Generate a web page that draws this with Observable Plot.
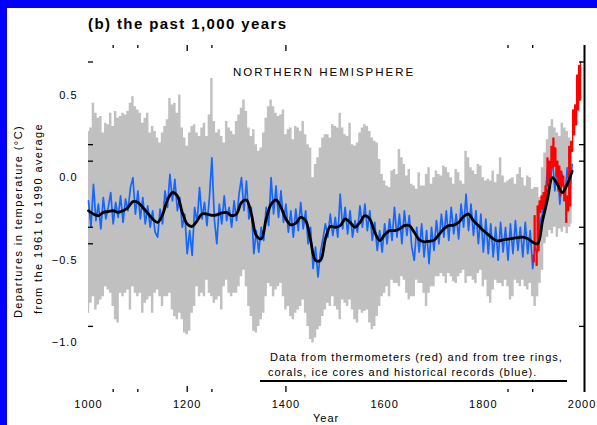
<!DOCTYPE html>
<html><head><meta charset="utf-8">
<script src="https://cdn.jsdelivr.net/npm/d3@7"></script>
<script src="https://cdn.jsdelivr.net/npm/@observablehq/plot@0.6"></script>
<style>
html,body{margin:0;padding:0;background:#fff;}
#wrap{position:relative;width:597px;height:425px;overflow:hidden;font-family:"Liberation Sans",Arial,sans-serif;color:#000;background:#fff;}
#wrap svg{position:absolute;left:0;top:0;}
#wrap svg text{letter-spacing:1px;}
.t{position:absolute;white-space:nowrap;line-height:1;}
</style></head><body><div id="wrap"></div>
<script>
// ---- Uncertainty band (grey), 5-year steps from 1000 to 1980 ----
const hi1000 = [0.28,0.30,0.45,0.39,0.36,0.37,0.27,0.33,0.32,0.39,0.31,0.40,0.36,0.37,0.39,0.38,0.40,0.45,0.49,0.43];
const hi1100 = [0.41,0.39,0.33,0.36,0.39,0.27,0.31,0.28,0.24,0.21,0.27,0.31,0.35,0.48,0.44,0.45,0.39,0.50,0.30,0.24];
const hi1200 = [0.19,0.27,0.31,0.32,0.27,0.25,0.30,0.33,0.25,0.38,0.60,0.34,0.27,0.29,0.25,0.21,0.34,0.30,0.28,0.26];
const hi1300 = [0.34,0.38,0.42,0.47,0.40,0.30,0.25,0.29,0.20,0.16,0.18,0.27,0.36,0.43,0.47,0.43,0.39,0.37,0.38,0.41];
const hi1400 = [0.26,0.29,0.30,0.23,0.31,0.30,0.28,0.34,0.26,0.20,0.18,0.00,0.08,0.12,0.18,0.24,0.26,0.26,0.24,0.32];
const hi1500 = [0.31,0.30,0.39,0.30,0.26,0.25,0.33,0.20,0.19,0.21,0.27,0.30,0.32,0.31,0.28,0.24,0.22,0.21,0.11,0.02];
const hi1600 = [-0.02,-0.05,-0.06,0.04,0.05,0.02,0.17,0.12,0.08,0.01,0.05,-0.04,-0.05,-0.07,0.03,-0.05,-0.05,0.02,0.06,-0.04];
const hi1700 = [0.00,0.04,0.02,0.01,0.07,0.06,0.03,0.00,-0.04,0.05,0.03,-0.02,-0.04,0.16,0.12,0.06,0.04,0.02,0.08,0.07];
const hi1800 = [0.00,-0.02,-0.01,-0.02,0.04,-0.03,0.02,0.12,0.01,-0.03,-0.02,-0.01,0.00,-0.04,0.02,0.06,0.00,-0.05,0.01,0.00];
const hi1900 = [-0.07,-0.06,-0.06,-0.12,0.06,0.15,0.23,0.31,0.35,0.30,0.27,0.25,0.33,0.30,0.28,0.24,0.22];

const lo1000 = [-0.82,-0.76,-0.72,-0.80,-0.77,-0.74,-0.72,-0.66,-0.68,-0.70,-0.78,-0.86,-0.88,-0.70,-0.72,-0.70,-0.68,-0.80,-0.66,-0.70];
const lo1100 = [-0.72,-0.70,-0.82,-0.76,-0.74,-0.72,-0.82,-0.70,-0.68,-0.72,-0.78,-0.72,-0.72,-0.70,-0.80,-0.84,-0.86,-0.82,-0.86,-0.94];
const lo1200 = [-0.95,-0.93,-0.82,-0.78,-0.66,-0.72,-0.70,-0.72,-0.62,-0.70,-0.72,-0.76,-0.74,-0.72,-0.80,-0.66,-0.62,-0.70,-0.72,-0.70];
const lo1300 = [-0.70,-0.66,-0.60,-0.56,-0.66,-0.78,-0.84,-0.93,-0.94,-0.90,-0.86,-0.82,-0.72,-0.64,-0.66,-0.72,-0.68,-0.66,-0.64,-0.72];
const lo1400 = [-0.80,-0.78,-0.84,-0.86,-0.82,-0.80,-0.78,-0.74,-0.82,-0.90,-0.98,-1.00,-0.97,-0.92,-0.90,-0.84,-0.80,-0.76,-0.78,-0.72];
const lo1500 = [-0.78,-0.80,-0.86,-0.74,-0.76,-0.78,-0.74,-0.80,-0.86,-0.88,-0.80,-0.82,-0.81,-0.80,-0.88,-0.92,-0.90,-0.84,-0.78,-0.72];
const lo1600 = [-0.70,-0.66,-0.72,-0.62,-0.64,-0.64,-0.66,-0.60,-0.62,-0.70,-0.74,-0.72,-0.72,-0.62,-0.64,-0.64,-0.70,-0.78,-0.70,-0.66];
const lo1700 = [-0.66,-0.60,-0.60,-0.58,-0.60,-0.64,-0.58,-0.60,-0.63,-0.64,-0.60,-0.58,-0.56,-0.64,-0.60,-0.60,-0.62,-0.64,-0.58,-0.56];
const lo1800 = [-0.66,-0.62,-0.72,-0.76,-0.68,-0.62,-0.64,-0.64,-0.66,-0.62,-0.66,-0.74,-0.72,-0.62,-0.64,-0.66,-0.62,-0.66,-0.68,-0.64];
const lo1900 = [-0.72,-0.78,-0.72,-0.64,-0.56,-0.40,-0.36,-0.32,-0.34,-0.30,-0.36,-0.31,-0.33,-0.30,-0.34,-0.30,-0.28];

// ---- Proxy reconstruction (blue), 5-year steps from 1000 to 1980 ----
const blue1000 = [-0.14,-0.30,-0.04,-0.26,-0.16,-0.31,-0.12,-0.25,-0.18,-0.09,-0.28,-0.15,-0.24,-0.11,-0.27,-0.13,-0.20,-0.06,0.00,-0.22];
const blue1100 = [-0.08,-0.25,-0.12,-0.28,-0.17,-0.30,-0.20,-0.33,-0.36,-0.19,-0.28,-0.08,-0.18,0.02,-0.14,-0.01,-0.20,-0.12,-0.30,-0.22];
const blue1200 = [-0.46,-0.32,-0.47,-0.18,-0.27,-0.06,-0.25,-0.15,-0.29,-0.12,0.12,-0.25,-0.40,-0.16,-0.28,-0.11,-0.26,-0.18,-0.30,-0.14];
const blue1300 = [-0.26,-0.10,0.00,-0.20,-0.02,-0.25,-0.18,-0.46,-0.32,-0.45,-0.30,-0.38,-0.18,-0.29,0.00,-0.22,-0.05,-0.24,-0.08,-0.27];
const blue1400 = [-0.16,-0.33,-0.20,-0.36,-0.19,-0.32,-0.15,-0.31,-0.20,-0.40,-0.30,-0.55,-0.42,-0.60,-0.45,-0.37,-0.28,-0.36,-0.22,-0.35];
const blue1500 = [-0.24,-0.36,-0.10,-0.31,-0.18,-0.34,-0.20,-0.36,-0.26,-0.33,-0.17,-0.30,-0.16,-0.32,-0.20,-0.38,-0.27,-0.44,-0.32,-0.45];
const blue1600 = [-0.28,-0.40,-0.25,-0.38,-0.18,-0.36,-0.22,-0.40,-0.20,-0.35,-0.23,-0.42,-0.50,-0.30,-0.45,-0.28,-0.48,-0.32,-0.52,-0.30];
const blue1700 = [-0.44,-0.26,-0.40,-0.22,-0.36,-0.20,-0.38,-0.18,-0.34,-0.22,-0.37,-0.16,-0.30,-0.10,-0.32,-0.16,-0.35,-0.20,-0.40,-0.22];
const blue1800 = [-0.45,-0.25,-0.46,-0.28,-0.48,-0.30,-0.50,-0.27,-0.45,-0.30,-0.50,-0.28,-0.46,-0.26,-0.44,-0.30,-0.48,-0.27,-0.46,-0.32];
const blue1900 = [-0.55,-0.42,-0.45,-0.26,-0.22,-0.12,0.05,-0.06,0.12,-0.08,0.08,-0.16,0.02,-0.12,0.06,-0.10,0.08];

// ---- 40-year smoothed reconstruction (black), 10-year steps from 1000 to 1980 ----
const smooth1000 = [-0.20,-0.22,-0.23,-0.21,-0.205,-0.20,-0.21,-0.20,-0.18,-0.145];
const smooth1100 = [-0.15,-0.18,-0.215,-0.25,-0.27,-0.225,-0.135,-0.09,-0.11,-0.21];
const smooth1200 = [-0.28,-0.295,-0.26,-0.22,-0.22,-0.228,-0.225,-0.213,-0.21,-0.23];
const smooth1300 = [-0.22,-0.15,-0.135,-0.22,-0.35,-0.37,-0.25,-0.16,-0.135,-0.18];
const smooth1400 = [-0.25,-0.285,-0.275,-0.24,-0.26,-0.38,-0.50,-0.50,-0.37,-0.295];
const smooth1500 = [-0.30,-0.29,-0.25,-0.27,-0.30,-0.27,-0.23,-0.25,-0.33,-0.38];
const smooth1600 = [-0.345,-0.32,-0.32,-0.31,-0.29,-0.29,-0.33,-0.375,-0.388,-0.385];
const smooth1700 = [-0.378,-0.345,-0.31,-0.29,-0.287,-0.27,-0.235,-0.22,-0.26,-0.29];
const smooth1800 = [-0.32,-0.345,-0.37,-0.383,-0.377,-0.372,-0.367,-0.363,-0.36,-0.37];
const smooth1900 = [-0.39,-0.40,-0.26,-0.13,0.0,-0.04,-0.09,-0.04,0.04];

// ---- Thermometer record (red), 2-year steps from 1900 to 1998 ----
const redVals = [-0.47,-0.51,-0.23,-0.44,-0.53,-0.17,-0.44,-0.14,-0.21,-0.11,-0.19,-0.09,-0.17,-0.05,-0.14,0.12,-0.05,0.10,-0.02,0.19,0.06,0.24,0.07,0.18,0.01,0.10,-0.08,0.07,-0.11,0.04,-0.05,0.01,-0.14,-0.05,-0.27,-0.11,-0.20,0.19,-0.17,0.22,0.16,0.41,0.26,0.44,0.32,0.62,0.41,0.68,0.47,0.70];

// ---- Axes ----
const xDomain = [1000, 2005];
const yDomain = [-1.3, 0.8];
const xTickLabels = [1000, 1200, 1400, 1600, 1800, 2000];
const yTickLabels = [0.5, 0.0, -0.5, -1.0];
const xTicksMajor = [1200, 1400];
const xTicksMinor = [1050, 1100, 1250, 1850, 1900];
const yTicksMinor = [0.7, 0.2, 0.1, -0.3, -0.4, -0.9];

const grayHi = [...hi1000,...hi1100,...hi1200,...hi1300,...hi1400,...hi1500,...hi1600,...hi1700,...hi1800,...hi1900];
const grayLo = [...lo1000,...lo1100,...lo1200,...lo1300,...lo1400,...lo1500,...lo1600,...lo1700,...lo1800,...lo1900];
const blueVals = [...blue1000,...blue1100,...blue1200,...blue1300,...blue1400,...blue1500,...blue1600,...blue1700,...blue1800,...blue1900];
const smoothVals = [...smooth1000,...smooth1100,...smooth1200,...smooth1300,...smooth1400,...smooth1500,...smooth1600,...smooth1700,...smooth1800,...smooth1900];

const recon = blueVals.map((v, i) => ({year: 1000 + 5 * i, hi: grayHi[i], lo: grayLo[i], blue: v}));
const smooth = smoothVals.map((v, i) => ({year: 1000 + 10 * i, v}));
const red = redVals.map((v, i) => ({year: 1900 + 2 * i, v}));

const W = 597, H = 425, mL = 88, mR = 13, mT = 45, mB = 33;
const frameW = W - mL - mR, frameH = H - mT - mB;

const chart = Plot.plot({
  width: W, height: H,
  marginLeft: mL, marginRight: mR, marginTop: mT, marginBottom: mB,
  x: {domain: xDomain},
  y: {domain: yDomain},
  style: {background: "transparent", fontSize: "11px", fontFamily: "Liberation Sans, Arial, sans-serif", color: "#000"},
  marks: [
    Plot.areaY(recon, {x: "year", y1: "lo", y2: "hi", fill: "#c0c0c0", curve: "step"}),
    Plot.line(recon, {x: "year", y: "blue", stroke: "#1466ff", strokeWidth: 1.7}),
    Plot.line(red, {x: "year", y: "v", stroke: "#ff0000", strokeWidth: 1.3, curve: "step"}),
    Plot.line(smooth, {x: "year", y: "v", stroke: "#000", strokeWidth: 2.8, curve: "catmull-rom"}),
    Plot.ruleX([xDomain[1]], {stroke: "#000", strokeWidth: 2}),
    Plot.ruleX(xTicksMajor, {insetBottom: frameH - 6, stroke: "#000", strokeWidth: 1.3}),
    Plot.ruleX(xTicksMinor, {insetBottom: frameH - 3, stroke: "#000", strokeWidth: 1.3}),
    Plot.ruleX(xTicksMajor, {insetTop: frameH - 6, stroke: "#000", strokeWidth: 1.3}),
    Plot.ruleX(xTicksMinor, {insetTop: frameH - 3, stroke: "#000", strokeWidth: 1.3}),
    Plot.ruleY(yTicksMinor, {insetRight: frameW - 5, stroke: "#000", strokeWidth: 1.3}),
    Plot.ruleY(yTicksMinor, {insetLeft: frameW - 5, stroke: "#000", strokeWidth: 1.3}),
    Plot.axisX({ticks: xTickLabels, tickSize: 0, tickPadding: 8, label: null, tickFormat: d => String(d)}),
    Plot.axisY({ticks: yTickLabels, tickSize: 0, tickPadding: 11, label: null, tickFormat: d3.format(".1f")})
  ]
});

const wrap = document.getElementById("wrap");
wrap.appendChild(chart);

function addText(txt, css) {
  const d = document.createElement("div");
  d.className = "t";
  d.textContent = txt;
  Object.assign(d.style, css);
  wrap.appendChild(d);
  return d;
}
addText("(b) the past 1,000 years", {left: "88px", top: "16px", fontSize: "15px", fontWeight: "bold", letterSpacing: "1.4px"});
addText("NORTHERN HEMISPHERE", {left: "233px", top: "66.5px", fontSize: "11.5px", letterSpacing: "2px"});
addText("Data from thermometers (red) and from tree rings,", {left: "270px", top: "351.5px", fontSize: "11px", letterSpacing: "1px"});
addText("corals, ice cores and historical records (blue).", {left: "268px", top: "366.5px", fontSize: "11px", letterSpacing: "1px"});
addText("Year", {left: "313px", top: "413px", fontSize: "11px", letterSpacing: "1px"});
// caption underline
const ul = document.createElement("div");
Object.assign(ul.style, {position: "absolute", left: "260px", top: "380px", width: "307px", height: "2px", background: "#000"});
wrap.appendChild(ul);
// rotated y label
function addRot(txt, xc, yc) {
  addText(txt, {left: (xc - 130) + "px", top: (yc - 5.5) + "px", width: "260px", height: "11px", textAlign: "center",
    fontSize: "11px", letterSpacing: "1.4px", transform: "rotate(-90deg)", transformOrigin: "50% 50%"});
}
addRot("Departures in temperature (\u00B0C)", 17.5, 221);
addRot("from the 1961 to 1990 average", 38, 218);
// blue frame edges
const bt = document.createElement("div");
Object.assign(bt.style, {position: "absolute", left: "0", top: "0", width: W + "px", height: "8px", background: "#0000fa"});
wrap.appendChild(bt);
const bl = document.createElement("div");
Object.assign(bl.style, {position: "absolute", left: "0", top: "0", width: "7px", height: H + "px", background: "#0000fa"});
wrap.appendChild(bl);
</script>
</body></html>
